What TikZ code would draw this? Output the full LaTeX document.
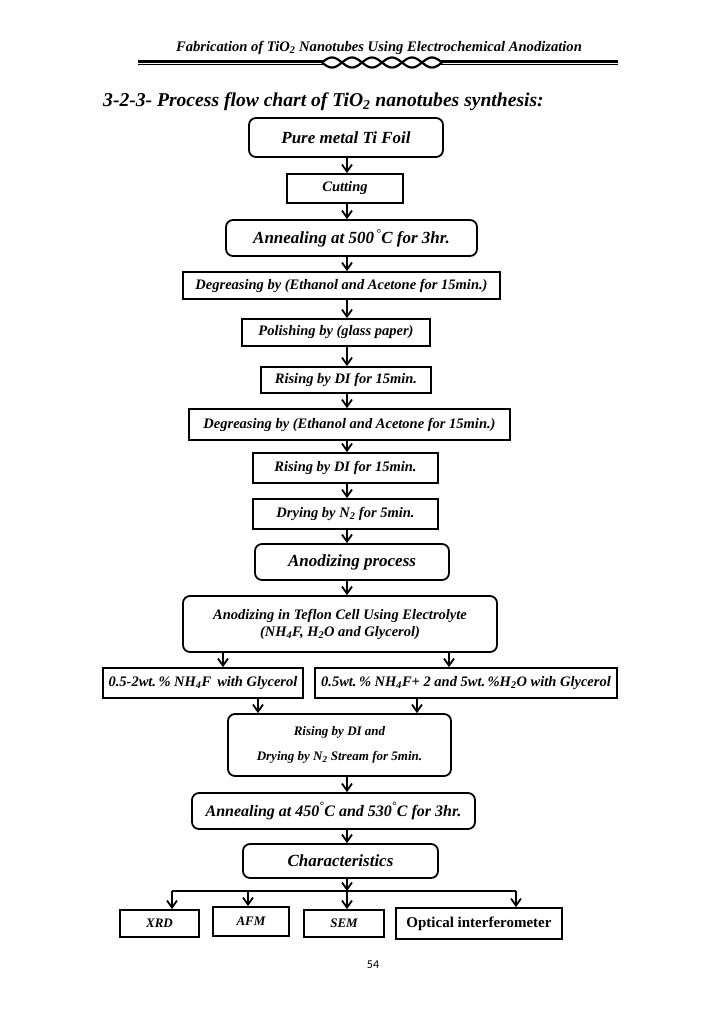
\documentclass[tikz,border=0pt]{standalone}
\usepackage{fontspec}
\setmainfont{Liberation Serif}
\newfontfamily\carlito{Carlito}
\usetikzlibrary{arrows.meta}
\begin{document}
\begin{tikzpicture}[x=1pt,y=-1pt,
 bx/.style={draw, line width=1.8pt, inner sep=0pt, align=center, font=\bfseries\itshape\fontsize{14.5}{17}\selectfont},
 rbx/.style={bx, rounded corners=7pt},
 big/.style={font=\bfseries\itshape\fontsize{17}{20}\selectfont},
 sml/.style={font=\bfseries\itshape\fontsize{13}{15}\selectfont},
 arr/.style={line width=1.8pt, -{Straight Barb[length=7pt,width=10pt,line width=1.8pt]}},
 ln/.style={line width=1.8pt},
]
\useasboundingbox (0,0) rectangle (728,1029);
% header
\node[anchor=base, inner sep=0, font=\bfseries\itshape\fontsize{14.6}{17}\selectfont] (head) at (379,51) {Fabrication of TiO\textsubscript{2} Nanotubes Using Electrochemical Anodization};
\draw[line width=3pt] (138,61) -- (324,61) (440,61) -- (618,61);
\draw[line width=1pt] (138,64.5) -- (324,64.5) (440,64.5) -- (618,64.5);
\draw[line width=2.2pt] plot[domain=322:442, samples=120, smooth] (\x, {62.5+5*sin(9*(\x-322))});
\draw[line width=2.2pt] plot[domain=322:442, samples=120, smooth] (\x, {62.5-5*sin(9*(\x-322))});
% title
\node[anchor=base west, inner sep=0, font=\bfseries\itshape\fontsize{19.6}{23}\selectfont] (title) at (103,106) {3-2-3- Process flow chart of TiO\textsubscript{2} nanotubes synthesis:};
% boxes
\node[rbx, big, minimum width=194pt, minimum height=39pt] (n1) at (346,137.5) {Pure metal Ti Foil};
\node[bx, minimum width=116pt, minimum height=29pt] (n2) at (345,188.5) {Cutting};
\node[rbx, big, minimum width=251pt, minimum height=36pt] (n3) at (351.5,238) {Annealing at 500\textsuperscript{\,°}C for 3hr.};
\node[bx, minimum width=317pt, minimum height=27pt] (n4) at (341.5,285.5) {Degreasing by (Ethanol and Acetone for 15min.)};
\node[bx, minimum width=188pt, minimum height=27pt] (n5) at (336,332.5) {Polishing by (glass paper)};
\node[bx, minimum width=170pt, minimum height=26pt] (n6) at (346,380) {Rising by DI for 15min.};
\node[bx, minimum width=321pt, minimum height=31pt] (n7) at (349.5,424.5) {Degreasing by (Ethanol and Acetone for 15min.)};
\node[bx, minimum width=185pt, minimum height=30pt] (n8) at (345.5,468) {Rising by DI for 15min.};
\node[bx, minimum width=185pt, minimum height=30pt] (n9) at (345.5,514) {Drying by N\textsubscript{2} for 5min.};
\node[rbx, big, minimum width=194pt, minimum height=36pt] (n10) at (352,562) {Anodizing process};
\node[rbx, minimum width=314pt, minimum height=56pt] (n11) at (340,624) {Anodizing in Teflon Cell Using Electrolyte\\(NH\textsubscript{4}F, H\textsubscript{2}O and Glycerol)};
\node[bx, minimum width=200pt, minimum height=30pt] (n12) at (203,683) {0.5-2wt.\,\% NH\textsubscript{4}F\, with Glycerol};
\node[bx, minimum width=302pt, minimum height=30pt] (n13) at (466,683) {0.5wt.\,\% NH\textsubscript{4}F+ 2 and 5wt.\,\%H\textsubscript{2}O with Glycerol};
\node[rbx, sml, minimum width=223pt, minimum height=62pt] (n14) at (339.5,745) {Rising by DI and\\[10pt]Drying by N\textsubscript{2} Stream for 5min.};
\node[rbx, font=\bfseries\itshape\fontsize{16}{19}\selectfont, minimum width=283pt, minimum height=36pt] (n15) at (333.5,811) {Annealing at 450\textsuperscript{°}C and 530\textsuperscript{°}C for 3hr.};
\node[rbx, big, minimum width=195pt, minimum height=34pt] (n16) at (340.5,861) {Characteristics};
\node[bx, sml, minimum width=79pt, minimum height=27pt] (n17) at (159.5,923.5) {XRD};
\node[bx, sml, minimum width=76pt, minimum height=29pt] (n18) at (251,921.5) {AFM};
\node[bx, sml, minimum width=80pt, minimum height=27pt] (n19) at (344,923.5) {SEM};
\node[bx, font=\bfseries\fontsize{15}{18}\selectfont, minimum width=166pt, minimum height=31pt] (n20) at (479,923.5) {Optical interferometer};
\node[inner sep=0, font=\carlito\fontsize{12}{14}\selectfont] (pg) at (373,965) {54};
% connectors
\coordinate (ax) at (347,0);
\foreach \a/\b in {n1/n2,n2/n3,n3/n4,n4/n5,n5/n6,n6/n7,n7/n8,n8/n9,n9/n10,n10/n11,n14/n15,n15/n16}
  \draw[arr] (\a.south -| ax) -- (\b.north -| ax);
\coordinate (bl) at (223,0);
\coordinate (br) at (449,0);
\coordinate (cl) at (258,0);
\coordinate (cr) at (417,0);
\draw[arr] (n11.south -| bl) -- (n12.north -| bl);
\draw[arr] (n11.south -| br) -- (n13.north -| br);
\draw[arr] (n12.south -| cl) -- (n14.north -| cl);
\draw[arr] (n13.south -| cr) -- (n14.north -| cr);
\coordinate (k1) at (172,891);
\coordinate (k2) at (248,891);
\coordinate (k3) at (347,891);
\coordinate (k4) at (516,891);
\draw[ln] (k1) -- (k4);
\draw[arr] (n16.south -| k3) -- (k3);
\draw[arr] (k1) -- (n17.north -| k1);
\draw[arr] (k2) -- (n18.north -| k2);
\draw[arr] (k3) -- (n19.north -| k3);
\draw[arr] (k4) -- (n20.north -| k4);
\end{tikzpicture}
\end{document}
